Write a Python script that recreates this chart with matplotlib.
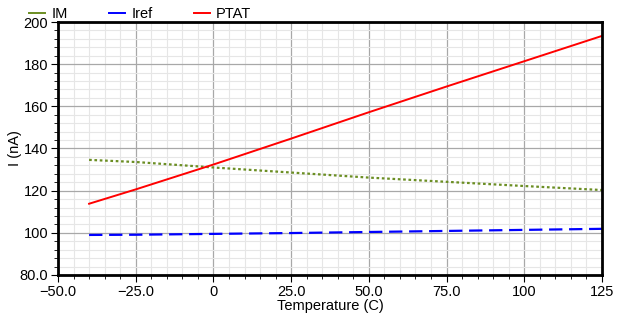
import matplotlib
matplotlib.use('Agg')
import matplotlib.pyplot as plt
from matplotlib.ticker import MultipleLocator, FixedLocator, FixedFormatter
from matplotlib.lines import Line2D

plt.rcParams['font.family'] = ['Liberation Sans', 'DejaVu Sans']

# temperature sweep (C)
temp = [-40, -25, 0, 25, 50, 75, 100, 125]
# currents (nA)
im = [134.6, 133.6, 131.0, 128.6, 126.2, 124.2, 122.2, 120.3]
iref = [99.0, 99.1, 99.5, 99.9, 100.4, 100.9, 101.4, 101.9]
ptat = [113.8, 120.6, 132.4, 144.7, 157.2, 169.4, 181.4, 193.4]

xticks = [-50, -25, 0, 25, 50, 75, 100, 125]
xlabels = ['\u221250.0', '\u221225.0', '0', '25.0', '50.0', '75.0', '100', '125']
yticks = [80, 100, 120, 140, 160, 180, 200]
ylabels = ['80.0', '100', '120', '140', '160', '180', '200']

fig = plt.figure(figsize=(6.43, 3.2), dpi=100)
ax = fig.add_axes([58 / 643, 45 / 320, 544 / 643, 253 / 320])

ax.plot(temp, im, color='#6b8e23', linestyle=(0, (1.2, 1.2)), linewidth=1.6)
ax.plot(temp, iref, color='#0000ff', linestyle=(0, (6, 3)), linewidth=1.6)
ax.plot(temp, ptat, color='#ff0000', linestyle='-', linewidth=1.4)

ax.set_xlim(-50, 125)
ax.set_ylim(80, 200)
ax.xaxis.set_major_locator(FixedLocator(xticks))
ax.xaxis.set_major_formatter(FixedFormatter(xlabels))
ax.yaxis.set_major_locator(FixedLocator(yticks))
ax.yaxis.set_major_formatter(FixedFormatter(ylabels))
ax.xaxis.set_minor_locator(MultipleLocator(5))
ax.yaxis.set_minor_locator(MultipleLocator(4))

ax.grid(which='major', color='#a8a8a8', linewidth=0.9)
ax.grid(which='minor', color='#e6e6e6', linewidth=0.8)
ax.set_axisbelow(True)

for s in ax.spines.values():
    s.set_linewidth(2)
ax.tick_params(which='major', direction='out', length=5, width=0.8, labelsize=10.5, pad=2)
ax.tick_params(which='minor', direction='out', length=3, width=0.6)

ax.set_xlabel('Temperature (C)', fontsize=10.5, labelpad=0)
ax.set_ylabel('I (nA)', fontsize=10.5)
ax.yaxis.set_label_coords(-0.066, 0.5)

handles = [Line2D([], [], color='#6b8e23', lw=1.4),
           Line2D([], [], color='#0000ff', lw=1.4),
           Line2D([], [], color='#ff0000', lw=1.4)]
fig.legend(handles, ['IM', 'Iref', 'PTAT'], loc='upper left',
           bbox_to_anchor=(16 / 643, 1.02), ncol=3, frameon=False,
           fontsize=10.5, handlelength=1.1, handletextpad=0.45, columnspacing=2.8)

fig.savefig('out.png', dpi=100)
